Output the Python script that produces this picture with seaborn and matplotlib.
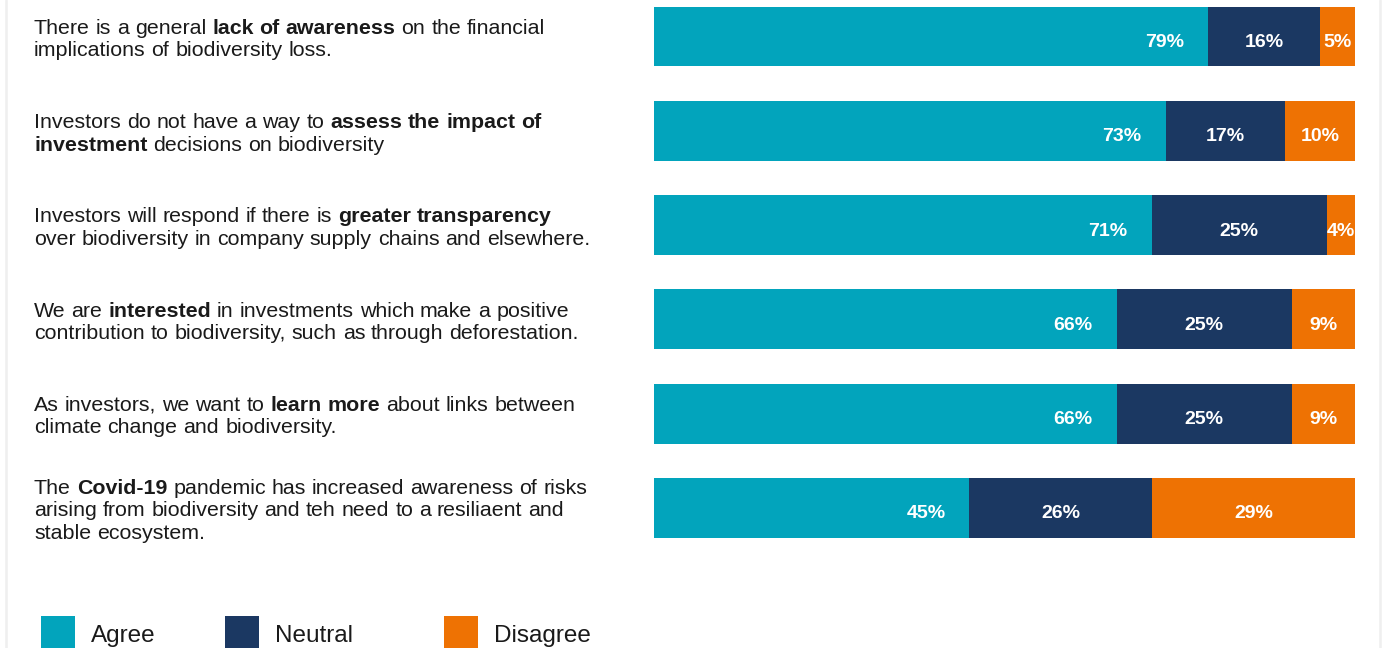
import matplotlib
matplotlib.use("Agg")
import matplotlib.pyplot as plt
from matplotlib.patches import Rectangle
from matplotlib.lines import Line2D
import seaborn as sns
import pandas as pd

# Survey statements; **...** marks the emphasised words
statements = [
    ["There is a general **lack of awareness** on the financial",
     "implications of biodiversity loss."],
    ["Investors do not have a way to **assess the impact of**",
     "**investment** decisions on biodiversity"],
    ["Investors will respond if there is **greater transparency**",
     "over biodiversity in company supply chains and elsewhere."],
    ["We are **interested** in investments which make a positive",
     "contribution to biodiversity, such as through deforestation."],
    ["As investors, we want to **learn more** about links between",
     "climate change and biodiversity."],
    ["The **Covid-19** pandemic has increased awareness of risks",
     "arising from biodiversity and teh need to a resiliaent and",
     "stable ecosystem."],
]
agree = [79, 73, 71, 66, 66, 45]
neutral = [16, 17, 25, 25, 25, 26]
disagree = [5, 10, 4, 9, 9, 29]
responses = ["Agree", "Neutral", "Disagree"]

colors = {"Agree": "#02A4BC", "Neutral": "#1B3862", "Disagree": "#EE7203"}
TEXT = "#1a1a1a"
FONT = "Liberation Sans"

W, H, DPI = 1384, 648, 100
sns.set_theme(style="white")
plt.rcParams["font.family"] = [FONT, "DejaVu Sans"]

fig = plt.figure(figsize=(W / DPI, H / DPI), dpi=DPI)
fig.patch.set_facecolor("white")

# bar area: x 654..1355 px, rows centred 36.5 px + i * 94.3 px
unit = 94.3
first_row = 36.5
top_px, bot_px = 0, 560
ax = fig.add_axes([654 / W, (H - bot_px) / H, 701 / W, (bot_px - top_px) / H])

ids = [f"s{i}" for i in range(len(statements))]
df = pd.DataFrame({"id": ids, "agree": agree, "neutral": neutral, "disagree": disagree})
df["cum_neutral"] = df["agree"] + df["neutral"]
df["cum_total"] = df["cum_neutral"] + df["disagree"]

# stacked bars drawn back-to-front from cumulative totals
for col, key in [("cum_total", "Disagree"), ("cum_neutral", "Neutral"), ("agree", "Agree")]:
    sns.barplot(data=df, x=col, y="id", orient="h", color=colors[key],
                saturation=1, width=0.636, linewidth=0, ax=ax)

ax.set_xlim(0, 100)
ax.set_ylim((bot_px - first_row) / unit, (top_px - first_row) / unit)
ax.set_axis_off()

# percentage labels inside the segments
pct_kw = dict(color="white", fontsize=14, fontweight="bold", family=FONT,
              textcoords="offset points", va="baseline")
for i in range(len(ids)):
    a, n, d = agree[i], neutral[i], disagree[i]
    ax.annotate(f"{a}%", xy=(a, i), xytext=(-24 * 0.72, -10.5 * 0.72), ha="right", **pct_kw)
    ax.annotate(f"{n}%", xy=(a + n / 2, i), xytext=(0, -10.5 * 0.72), ha="center", **pct_kw)
    ax.annotate(f"{d}%", xy=(a + n + d / 2, i), xytext=(0, -10.5 * 0.72), ha="center", **pct_kw)

# statement text with bold runs, laid out word by word
renderer = fig.canvas.get_renderer()
LABEL_SIZE = 15.4
LINE_H = 22.5
SPACE_PX = 0.278 * LABEL_SIZE * DPI / 72


def words(line):
    out = []
    for k, part in enumerate(line.split("**")):
        weight = "bold" if k % 2 == 1 else "normal"
        for w in part.split():
            out.append((w, weight))
    return out


for i, lines in enumerate(statements):
    cy = H - ax.transData.transform((0, i))[1]  # bar centre, px from top
    n = len(lines)
    first_base = cy - (n - 1) * LINE_H / 2 + 8.5
    for j, line in enumerate(lines):
        base = first_base + j * LINE_H
        x = 34.0
        for word, weight in words(line):
            t = fig.text(x / W, 1 - base / H, word, fontsize=LABEL_SIZE,
                         fontweight=weight, family=FONT, color=TEXT,
                         ha="left", va="baseline")
            x += t.get_window_extent(renderer).width + SPACE_PX

# legend row along the bottom edge
legend_pos = [(41, 91), (225, 275), (444, 494)]
for key, (sx, tx) in zip(responses, legend_pos):
    fig.patches.append(Rectangle((sx / W, 1 - 652 / H), 34 / W, 36 / H,
                                 transform=fig.transFigure, color=colors[key], lw=0))
    fig.text(tx / W, 1 - 642 / H, key, fontsize=17.5, family=FONT, color=TEXT,
             ha="left", va="baseline")

# light card edges
for xp in (6, 1380):
    fig.lines.append(Line2D([xp / W, xp / W], [0, 1], transform=fig.transFigure,
                            color="#efefef", lw=1.8))

fig.savefig("out.png", dpi=DPI, facecolor="white")
